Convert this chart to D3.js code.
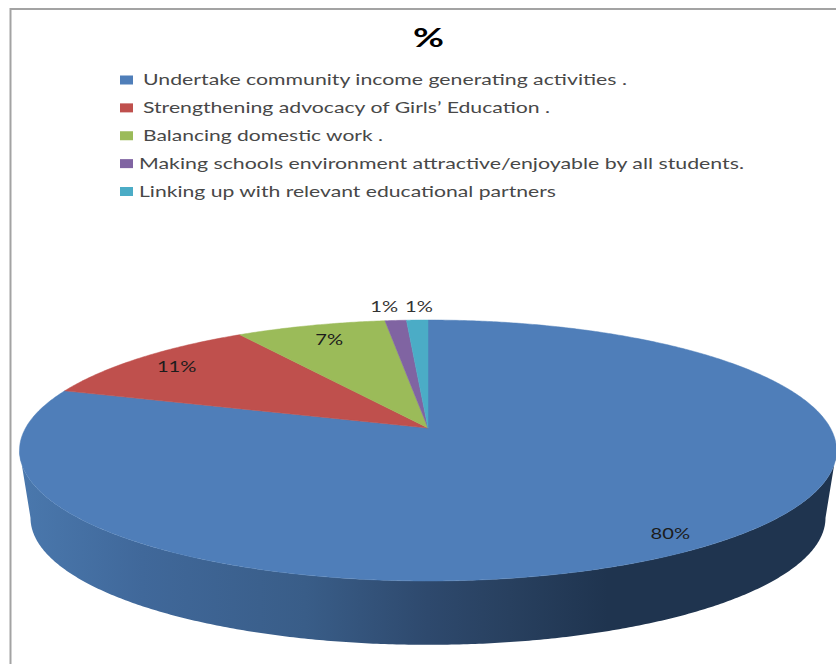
<!DOCTYPE html>
<html>
<head>
<meta charset="utf-8">
<script src="https://cdn.jsdelivr.net/npm/d3@7"></script>
<style>
  html, body { margin: 0; padding: 0; background: #fff; }
  svg { display: block; }
  text { font-family: Lato, "Open Sans", sans-serif; }
</style>
</head>
<body>
<svg id="chart" width="836" height="664"></svg>
<script>
// Chart content
const title = "%";
const categories = [
  "Undertake community income generating activities .",
  "Strengthening advocacy of Girls\u2019 Education .",
  "Balancing domestic work .",
  "Making schools environment attractive/enjoyable by all students.",
  "Linking up with relevant educational partners"
];
const shares = [80, 11, 7, 1, 1];
const sliceColors = ["#4f7eb9", "#bf504d", "#9bbb59", "#8064a2", "#4bacc6"];

// Legend layout: first and last pixel of every text row
const legendTextStart = [143, 143, 143, 139, 139];
const legendTextEnd = [627, 550, 383, 744, 556];

// Value label placement: radial fraction of the disc plus a nudge in pixels
const labelRadius = [0.89, 0.87, 0.85, 1.13, 1.13];
const labelNudge = [[2, 1], [2, 0], [3, 0], [-8, -2], [3, -2]];

// Perspective disc: centre point, half axes and tilt strength
const disc = { cx: 428, cy: 428, a: 402.4, b: 126.6, k: 0.1724 };
// The underside is the same disc, slightly smaller and lower
const base = { scale: 0.973, cy: 496 };

const wallStops = [
  [0, "#4a78ad"], [0.15, "#40689a"], [0.35, "#395d88"], [0.5, "#2e496d"],
  [0.6, "#28405f"], [0.72, "#1f344f"], [1, "#1f344f"]
];

const svg = d3.select("#chart");

// Maps a clockwise angle from 12 o'clock and a radial fraction onto the page
function project(angle, r = 1, scale = 1, cy = disc.cy) {
  const u = Math.sin(angle) * r;
  const v = -Math.cos(angle) * r;
  const d = 1 - disc.k * v;
  return [disc.cx + scale * disc.a * u / d, cy + scale * disc.b * v / d];
}

function arcPoints(a0, a1, scale, cy) {
  const n = Math.max(2, Math.ceil(Math.abs(a1 - a0) * 120));
  return d3.range(n + 1).map(i => project(a0 + (a1 - a0) * i / n, 1, scale, cy));
}

const line = d3.line();
const arcs = d3.pie().sort(null).value(d => d)(shares);
const color = d3.scaleOrdinal().domain(categories).range(sliceColors);

// Frame
svg.append("path")
  .attr("d", "M10.5,664V9H836")
  .attr("fill", "none")
  .attr("stroke", "#a3a3a3")
  .attr("stroke-width", 2);

// Title
svg.append("text")
  .attr("x", 413).attr("y", 47)
  .attr("textLength", 31).attr("lengthAdjust", "spacingAndGlyphs")
  .attr("font-size", 26).attr("font-weight", 700).attr("fill", "#000")
  .text(title);

// Legend
const rowY = d3.scalePoint().domain(categories).range([80, 191.5]);
const legend = svg.append("g").selectAll("g").data(categories).join("g");
legend.append("rect")
  .attr("x", 120).attr("y", d => rowY(d) - 4.5)
  .attr("width", 13).attr("height", 9)
  .attr("fill", d => color(d));
legend.append("text")
  .attr("x", (d, i) => legendTextStart[i])
  .attr("y", d => rowY(d) + 5)
  .attr("textLength", (d, i) => legendTextEnd[i] - legendTextStart[i])
  .attr("lengthAdjust", "spacingAndGlyphs")
  .attr("font-size", 15).attr("fill", "#484848")
  .text(d => d);

// Side wall shaded from left to right
const gradient = svg.append("defs").append("linearGradient")
  .attr("id", "wall").attr("gradientUnits", "userSpaceOnUse")
  .attr("x1", 20).attr("x2", 836).attr("y1", 0).attr("y2", 0);
gradient.selectAll("stop").data(wallStops).join("stop")
  .attr("offset", d => d[0]).attr("stop-color", d => d[1]);

const wallRight = Math.acos(-disc.k);
const wallLeft = 2 * Math.PI - wallRight;
svg.append("path")
  .attr("d", line([
    ...arcPoints(wallRight, wallLeft, 1, disc.cy),
    ...arcPoints(wallLeft, wallRight, base.scale, base.cy)
  ]) + "Z")
  .attr("fill", "url(#wall)");

// Top face
svg.append("g").selectAll("path").data(arcs).join("path")
  .attr("d", d => line([[disc.cx, disc.cy], ...arcPoints(d.startAngle, d.endAngle, 1, disc.cy)]) + "Z")
  .attr("fill", (d, i) => sliceColors[i])
  .attr("stroke", (d, i) => sliceColors[i])
  .attr("stroke-width", 0.5);

// Value labels
const pct = d3.format(".0%");
const labels = svg.append("g").selectAll("text").data(arcs).join("text")
  .attr("text-anchor", "middle")
  .attr("font-size", 15.5)
  .attr("fill", (d, i) => i > 2 ? "#333" : "#1c1c1c")
  .attr("x", (d, i) => project((d.startAngle + d.endAngle) / 2, labelRadius[i])[0] + labelNudge[i][0])
  .attr("y", (d, i) => project((d.startAngle + d.endAngle) / 2, labelRadius[i])[1] + labelNudge[i][1] + 5.5)
  .text(d => pct(d.value / 100));
labels.attr("textLength", function () { return this.getComputedTextLength() * 1.3; })
  .attr("lengthAdjust", "spacingAndGlyphs");
</script>
</body>
</html>
